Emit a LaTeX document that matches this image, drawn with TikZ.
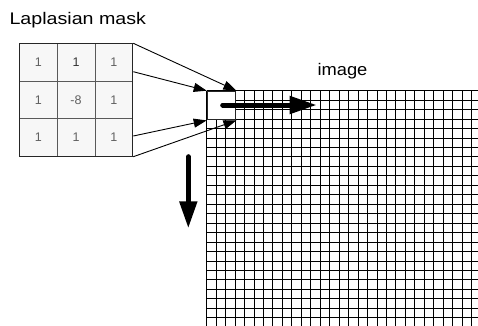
\documentclass[tikz,border=0pt]{standalone}
\usepackage{fontspec}
\setmainfont{Liberation Sans}
\usetikzlibrary{arrows.meta}
\begin{document}
\begin{tikzpicture}[x=1pt,y=-1pt,
  gridline/.style={line width=0.9pt, black},
  cell/.style={draw=black!65, fill=black!3, line width=0.8pt, minimum width=37.77pt, minimum height=37.47pt, inner sep=0pt, text=black!62, font=\fontsize{12.5}{12.5}\selectfont, anchor=north west},
  maskframe/.style={draw=black!85, line width=1pt, minimum width=113.3pt, minimum height=112.4pt, inner sep=0pt, anchor=north west},
  boxframe/.style={draw=black!85, fill=white, line width=1.3pt, minimum width=28.4pt, minimum height=28.4pt, inner sep=0pt, anchor=north west},
  thinarrow/.style={line width=0.9pt, -{Triangle[length=13pt,width=9pt]}},
  thickarrow/.style={line width=5pt, line cap=round, -{Triangle[length=27pt,width=17pt]}},
  label/.style={inner sep=0pt, anchor=base west, font=\fontsize{16.8}{16.8}\selectfont}
]
\useasboundingbox (0,0) rectangle (478,325);
\fill[white] (0,0) rectangle (478,325);
\begin{scope}
\clip (0,0) rectangle (478,325);
\foreach \i in {0,...,29} \draw[gridline] ({206.7+\i*9.46},90.7) -- ({206.7+\i*9.46},330);
\foreach \j in {0,...,25} \draw[gridline] (206.7,{90.7+\j*9.46}) -- (485,{90.7+\j*9.46});
\end{scope}
\node[boxframe] (box) at (206.7,90.7) {};
% mask cells
\node[cell] (c11) at (19,43.3) {1};
\node[cell] (c12) at (56.77,43.3) {\textcolor{black!80}{1}};
\node[cell] (c13) at (94.54,43.3) {1};
\node[cell] (c21) at (19,80.77) {1};
\node[cell] (c22) at (56.77,80.77) {-8};
\node[cell] (c23) at (94.54,80.77) {1};
\node[cell] (c31) at (19,118.24) {1};
\node[cell] (c32) at (56.77,118.24) {1};
\node[cell] (c33) at (94.54,118.24) {1};
\node[maskframe] (mask) at (19,43.3) {};
% connectors
\draw[thinarrow] (mask.north east) -- (box.north east);
\draw[thinarrow] ([yshift=-28.4pt]mask.north east) -- (box.north west);
\draw[thinarrow] ([yshift=20.7pt]mask.south east) -- (box.south west);
\draw[thinarrow] (mask.south east) -- (box.south east);
% scan arrows
\coordinate (h0) at (222.7,105);
\coordinate (h1) at (316.7,105);
\coordinate (v0) at (188.3,156.7);
\coordinate (v1) at (188.3,228.3);
\draw[thickarrow] (h0) -- (h1);
\draw[thickarrow] (v0) -- (v1);
% labels
\node[label, xscale=1.17] (title) at (9.3,24.3) {Laplasian mask};
\node[label, xscale=1.09] (imglabel) at (317.3,75.7) {image};
\end{tikzpicture}
\end{document}
